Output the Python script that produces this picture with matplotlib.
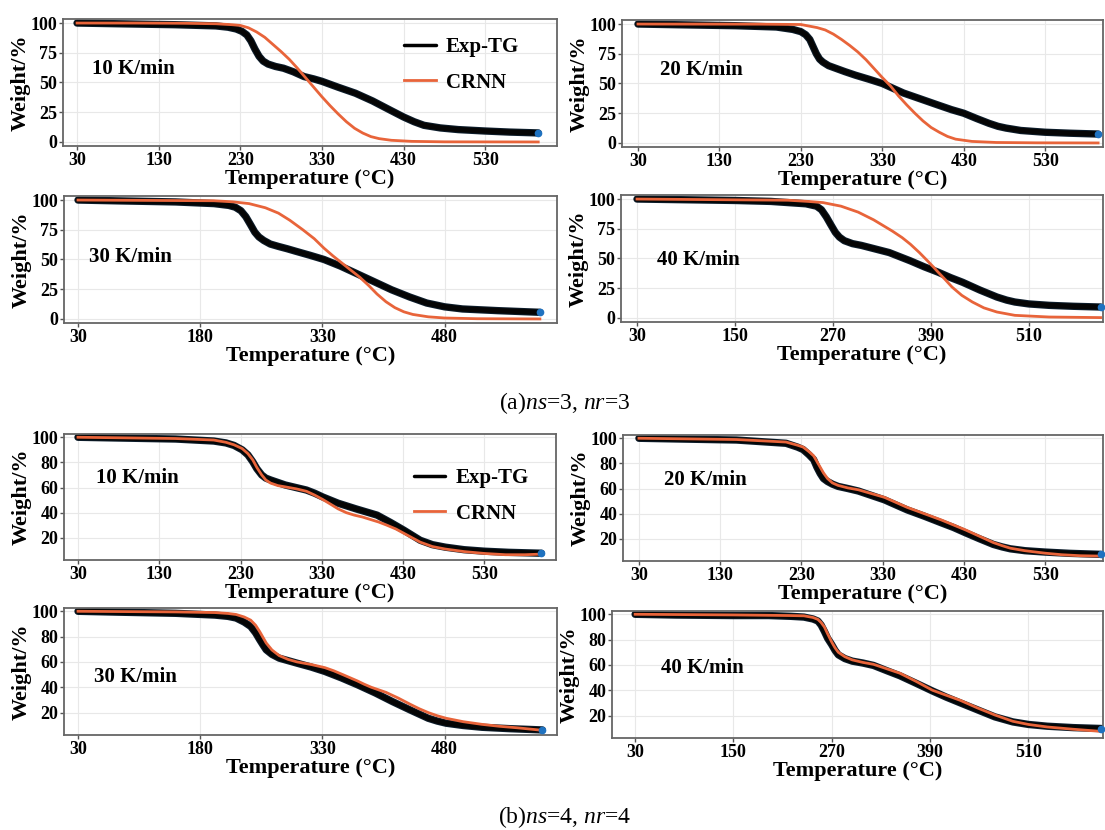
import matplotlib
matplotlib.use('Agg')
import matplotlib.pyplot as plt

# Data (temperature in C, weight in %)

# (a) ns=3, nr=3
a10_t_exp = [30, 80, 150, 200, 215, 225, 232, 238, 243, 248, 253, 258, 264, 273, 283, 295, 308, 320, 330, 350, 371, 392, 413, 430, 443, 455, 475, 497, 530, 560, 595]
a10_w_exp = [100, 99.4, 98.6, 97.6, 96.5, 95, 93, 90, 85, 78, 72, 68, 65.5, 63.5, 62, 59, 55, 53, 51, 46, 41, 34.5, 27, 21, 17, 14, 11.8, 10.4, 9.2, 8.3, 7.6]
a10_t_crnn = [30, 100, 160, 200, 220, 230, 240, 250, 260, 270, 280, 290, 300, 310, 320, 330, 340, 350, 360, 370, 380, 390, 400, 415, 440, 480, 595]
a10_w_crnn = [100, 100, 99.8, 99.4, 98.6, 98, 96, 92.5, 88, 82, 76, 69.5, 62, 54, 46, 38, 30.5, 23.5, 17, 11.5, 7.5, 4.5, 2.8, 1.4, 0.5, 0.1, 0]

a20_t_exp = [30, 80, 150, 200, 220, 230, 236, 241, 245, 249, 253, 257, 264, 272, 284, 297, 314, 330, 343, 356, 377, 398, 415, 430, 446, 461, 472, 482, 500, 530, 560, 595]
a20_w_exp = [100, 99.4, 98.6, 97.5, 95.5, 93.6, 91, 87, 81, 75, 70.5, 68, 65, 63, 60, 57, 53.5, 50, 46, 42, 37, 32, 28, 25, 20.5, 16.5, 14, 12.5, 10.5, 9, 8.2, 7.5]
a20_t_crnn = [30, 180, 230, 250, 260, 270, 280, 290, 300, 310, 320, 330, 340, 350, 360, 370, 380, 390, 400, 410, 420, 440, 470, 520, 595]
a20_w_crnn = [100, 99.9, 99.6, 97, 95, 91.5, 87, 82, 76.5, 70, 62.5, 55, 48, 39.5, 32, 25, 18.5, 13, 9, 5.5, 3.2, 1.3, 0.4, 0.1, 0]

a30_t_exp = [30, 80, 150, 197, 215, 223, 230, 236, 242, 247, 252, 258, 266, 276, 287, 297, 315, 332, 352, 371, 393, 415, 437, 458, 480, 502, 545, 597]
a30_w_exp = [100, 99.3, 98.4, 97, 95.5, 94, 91, 86, 79, 73, 69, 66, 63, 61, 59, 57, 53.5, 50, 44.5, 38.5, 31.5, 24.5, 18.5, 13.4, 10.2, 8.4, 7, 5.6]
a30_t_crnn = [30, 197, 220, 240, 260, 276, 290, 306, 320, 332, 343, 354, 365, 376, 387, 397, 408, 419, 430, 441, 460, 480, 520, 597]
a30_w_crnn = [100, 99.4, 98.5, 97, 93.5, 89, 83, 75, 67.5, 59.5, 53, 47, 41, 35, 28, 21, 14.5, 9.5, 6, 3.8, 1.8, 0.8, 0.2, 0]

a40_t_exp = [30, 80, 150, 194, 237, 250, 256, 262, 267, 273, 278, 284, 294, 305, 322, 339, 352, 365, 382, 399, 414, 429, 450, 471, 483, 493, 510, 535, 565, 598]
a40_w_exp = [100, 99.5, 98.8, 98, 96, 94, 91, 85, 79, 72, 68, 65, 62.5, 61, 58, 55, 51.5, 48, 43, 38.5, 34, 30, 23.5, 17.6, 15, 13.4, 11.8, 10.6, 9.8, 9.2]
a40_t_crnn = [30, 215, 240, 258, 280, 301, 320, 343, 355, 365, 376, 386, 393, 399, 408, 416, 428, 441, 455, 471, 493, 535, 598]
a40_w_crnn = [100, 99, 98, 97, 94, 89, 82.5, 73, 67.5, 62, 55, 48, 43, 38.5, 32, 26, 19, 13.4, 8.5, 5, 2.2, 0.8, 0.3]

# (b) ns=4, nr=4
b10_t_exp = [30, 80, 150, 197, 212, 222, 232, 239, 245, 250, 256, 261, 267, 276, 285, 298, 311, 321, 331, 350, 372, 385, 398, 415, 431, 441, 451, 466, 482, 505, 530, 560, 600]
b10_w_exp = [100, 99.4, 98.6, 97, 95.5, 93.5, 90, 86, 80.5, 75, 70, 67.5, 66, 64, 62, 60, 58, 55.5, 52.5, 47.5, 43, 40.5, 38, 32, 26, 22, 18, 14.5, 12.5, 10.5, 9.3, 8.4, 7.7]
b10_t_crnn = [30, 80, 150, 197, 212, 222, 232, 239, 245, 250, 256, 261, 267, 276, 285, 298, 311, 321, 331, 340, 350, 360, 370, 380, 390, 400, 410, 421, 431, 441, 451, 466, 482, 505, 530, 556, 580, 600]
b10_w_crnn = [100, 99.6, 99, 97.8, 96, 94, 91, 87, 82, 76, 70, 66, 63.5, 61.5, 60.5, 59, 57, 54, 50.5, 47, 43, 40, 38, 36.5, 34.5, 32.5, 30, 27, 23.5, 20, 16.5, 13, 11, 9, 7.5, 6.5, 6.5, 7]

b20_t_exp = [30, 80, 150, 211, 225, 232, 239, 245, 249, 253, 257, 262, 268, 275, 287, 300, 316, 332, 346, 360, 381, 402, 417, 432, 449, 466, 477, 487, 505, 530, 560, 598]
b20_w_exp = [100, 99.4, 98.6, 96, 93, 91, 87, 83, 77, 72, 68, 65.6, 63.5, 61.7, 60, 58, 54.5, 51, 47, 43, 38, 32.7, 29, 24.7, 20, 15.5, 13.5, 12, 10.5, 9.4, 8.4, 7.6]
b20_t_crnn = [30, 80, 150, 211, 225, 232, 239, 245, 249, 253, 257, 262, 268, 275, 287, 300, 316, 332, 346, 360, 381, 402, 417, 432, 449, 466, 477, 487, 505, 530, 550, 573, 598]
b20_w_crnn = [100, 99.6, 99, 97, 94.5, 93, 89.5, 86, 81.5, 77, 72.5, 68, 64.5, 62.5, 60.5, 59, 56, 53, 49, 45, 40, 35, 31, 27, 22, 17, 14.5, 12.5, 10.5, 8.5, 7.3, 6.5, 6.2]

b30_t_exp = [30, 80, 150, 198, 214, 224, 234, 242, 248, 253, 257, 261, 268, 277, 288, 299, 316, 333, 353, 373, 395, 416, 438, 460, 471, 482, 503, 526, 560, 600]
b30_w_exp = [100, 99.3, 98.4, 97, 96, 94.7, 91.5, 88, 83, 77.6, 73.5, 69.6, 66, 63, 61, 59, 56, 52.5, 47.5, 42, 35.5, 28.7, 22, 15.5, 13.3, 11.6, 9.8, 8.4, 7.3, 6.3]
b30_t_crnn = [30, 80, 150, 198, 214, 224, 234, 242, 248, 253, 257, 261, 268, 277, 288, 299, 316, 333, 344, 355, 364, 373, 381, 390, 399, 408, 423, 438, 449, 460, 471, 482, 503, 526, 547, 569, 600]
b30_w_crnn = [100, 99.8, 99.5, 99, 98.3, 97.5, 95.5, 93, 89, 84, 79.5, 75, 69.5, 65, 62, 60, 58, 55.5, 53, 50, 47.5, 45, 42.5, 40, 38, 36, 31.5, 26.5, 23, 20, 17.5, 15.5, 12.8, 10.7, 9.2, 8, 6]

b40_t_exp = [30, 80, 150, 193, 220, 236, 247, 253, 257, 261, 265, 270, 274, 278, 286, 295, 308, 321, 337, 353, 373, 393, 410, 427, 448, 469, 480, 491, 510, 533, 565, 599]
b40_w_exp = [100, 99.4, 99, 99, 98.4, 97.8, 96.3, 94.7, 91.5, 86.5, 81, 76, 71.5, 68, 65, 63, 61.5, 59.6, 55.5, 51.5, 45.5, 39.4, 34.5, 30, 24.5, 19, 17, 15, 13, 11.6, 10.5, 9.8]
b40_t_crnn = [30, 80, 150, 193, 220, 236, 247, 253, 257, 261, 265, 270, 274, 278, 286, 295, 308, 321, 337, 353, 373, 393, 410, 427, 448, 469, 480, 491, 510, 533, 565, 599]
b40_w_crnn = [100, 99.8, 99.5, 99.2, 99, 98.8, 97.5, 96, 93.5, 90, 84.5, 78, 73.5, 70, 66.5, 64, 62, 60.5, 57, 53.5, 47, 40, 36, 32, 26, 20.5, 18, 15.5, 13, 11, 9.2, 7.5]

rates = ['10 K/min', '20 K/min', '30 K/min', '40 K/min']
ticks_10_20 = [30, 130, 230, 330, 430, 530]
ticks_30 = [30, 180, 330, 480]
ticks_40 = [30, 150, 270, 390, 510]
yticks_a = [0, 25, 50, 75, 100]
yticks_b = [20, 40, 60, 80, 100]

plt.rcParams['font.family'] = 'Liberation Serif'
plt.rcParams['font.weight'] = 'bold'
plt.rcParams['mathtext.fontset'] = 'custom'
plt.rcParams['mathtext.rm'] = 'Liberation Serif:weight=normal'
plt.rcParams['mathtext.it'] = 'Liberation Serif:style=italic:weight=normal'

W, H = 1105, 830
fig = plt.figure(figsize=(11.05, 8.3), dpi=100)

def box(x0, x1, y0, y1):
    return [x0 / W, 1 - y1 / H, (x1 - x0) / W, (y1 - y0) / H]

def panel(rect, t_exp, w_exp, t_crnn, w_crnn, xticks, yticks, ylim, xlim, label, lpos, legend=None):
    ax = fig.add_axes(rect)
    ax.grid(True, color='#e8e8e8', lw=0.8)
    ax.set_axisbelow(True)
    ax.plot(t_exp, w_exp, color='#0c1c2a', lw=5.3, solid_capstyle='round', label='Exp-TG')
    ax.plot(t_exp, w_exp, color='#050505', lw=3.8, solid_capstyle='round')
    ax.plot(t_crnn, w_crnn, color='#e8643a', lw=2.0, label='CRNN')
    ax.plot(t_exp[-1], w_exp[-1], 'o', color='#1f72c0', ms=4.5, clip_on=False, zorder=5)
    ax.set_xlim(*xlim)
    ax.set_ylim(*ylim)
    ax.set_xticks(xticks)
    ax.set_yticks(yticks)
    ax.tick_params(labelsize=13, length=3, width=1, color='#555555', pad=1)
    for s in ax.spines.values():
        s.set_color('#666666')
        s.set_linewidth(1.3)
    ax.set_xlabel('Temperature (°C)', fontsize=16, fontweight='bold', labelpad=0)
    ax.set_ylabel('Weight/%', fontsize=16, fontweight='bold', labelpad=0)
    ax.text(lpos[0], lpos[1], label, transform=ax.transAxes, fontsize=15,
            fontweight='bold', va='center', ha='left')
    if legend is not None:
        ax.legend(loc='center left', bbox_to_anchor=legend, frameon=False,
                  prop={'size': 15, 'weight': 'bold'}, handlelength=1.5,
                  handletextpad=0.5, labelspacing=0.75, borderpad=0)
        leg = ax.get_legend()
        leg.legend_handles[0].set_linewidth(2.5)
        leg.legend_handles[0].set_color('black')
    return ax

ya = (-3.4, 103.4)
yb = (2.3, 102.6)
xl_left = (12.8, 618)
xl_right = (10.4, 601)

panel(box(63, 557, 19, 146), a10_t_exp, a10_w_exp, a10_t_crnn, a10_w_crnn,
      ticks_10_20, yticks_a, ya, xl_left, rates[0], (0.059, 0.61), legend=(0.67, 0.64))
panel(box(622, 1103, 20, 147), a20_t_exp, a20_w_exp, a20_t_crnn, a20_w_crnn,
      ticks_10_20, yticks_a, ya, xl_right, rates[1], (0.08, 0.61))
panel(box(64, 557, 196, 323), a30_t_exp, a30_w_exp, a30_t_crnn, a30_w_crnn,
      ticks_30, yticks_a, ya, xl_left, rates[2], (0.05, 0.52))
panel(box(621, 1103, 195, 322), a40_t_exp, a40_w_exp, a40_t_crnn, a40_w_crnn,
      ticks_40, yticks_a, ya, xl_right, rates[3], (0.075, 0.49))

panel(box(64, 556, 434, 560), b10_t_exp, b10_w_exp, b10_t_crnn, b10_w_crnn,
      ticks_10_20, yticks_b, yb, xl_left, rates[0], (0.065, 0.65), legend=(0.69, 0.51))
panel(box(623, 1103, 435, 561), b20_t_exp, b20_w_exp, b20_t_crnn, b20_w_crnn,
      ticks_10_20, yticks_b, yb, xl_right, rates[1], (0.085, 0.64))
panel(box(64, 557, 608, 735), b30_t_exp, b30_w_exp, b30_t_crnn, b30_w_crnn,
      ticks_30, yticks_b, yb, xl_left, rates[2], (0.06, 0.46))
panel(box(612, 1103, 611, 738), b40_t_exp, b40_w_exp, b40_t_crnn, b40_w_crnn,
      ticks_40, yticks_b, yb, (1.8, 601), rates[3], (0.1, 0.55))

fig.text(565 / W, 1 - 403 / H, r'(a)$\mathit{ns}$=3, $\mathit{nr}$=3', fontsize=17,
         fontweight='normal', ha='center', va='center')
fig.text(565 / W, 1 - 817 / H, r'(b)$\mathit{ns}$=4, $\mathit{nr}$=4', fontsize=17,
         fontweight='normal', ha='center', va='center')

fig.savefig('out.png', dpi=100)
